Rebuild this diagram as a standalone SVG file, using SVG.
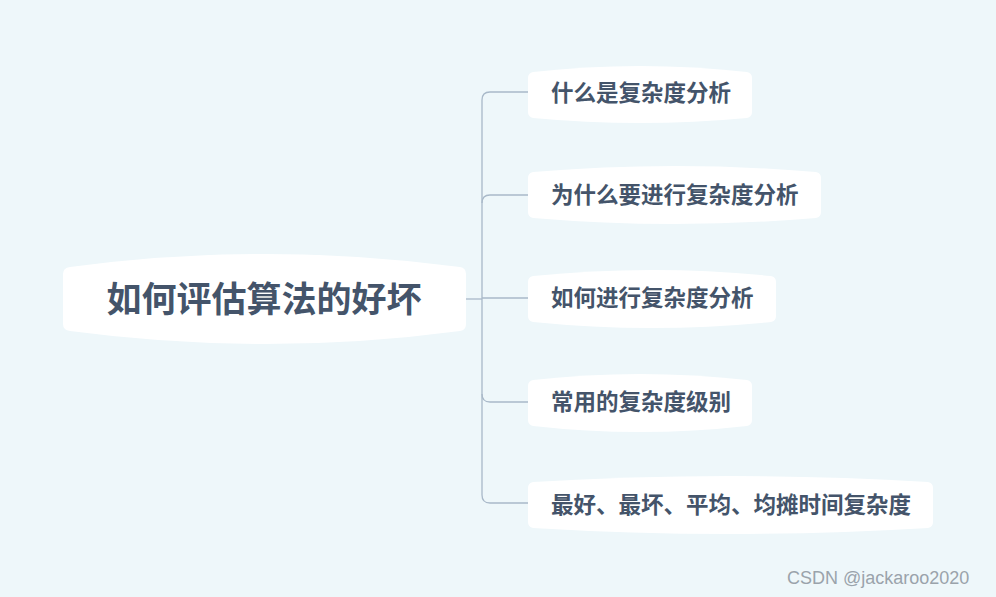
<svg xmlns="http://www.w3.org/2000/svg" width="996" height="597" viewBox="0 0 996 597">
<style>
.n{fill:#fff}
.t{font-family:"Noto Sans CJK SC","Noto Sans",sans-serif;font-weight:bold;fill:#44546a}
.c{fill:none;stroke:#a9b9c9;stroke-width:1.3}
</style>
<rect width="996" height="597" fill="#eef7fa"/>
<g id="connectors" class="c">
<path d="M466 299H482"/>
<path d="M528 92H490Q482 92 482 100V495Q482 503 490 503H528"/>
<path d="M528 195H490Q482 195 482 203"/>
<path d="M482 298H528"/>
<path d="M528 402H490Q482 402 482 394"/>
</g>
<g id="root"><path class="n" d="M70 267Q265 241 460 267Q466 268 466 274V324Q466 330 460 331Q265 357 70 331Q63 330 63 324V274Q63 268 70 267Z"/><text class="t" x="264" y="312" font-size="35" text-anchor="middle">如何评估算法的好坏</text></g>
<g id="n1"><path class="n" d="M533 72Q640 60 747 72Q752 73 752 78V112Q752 117 747 118Q640 128 533 118Q528 117 528 112V78Q528 73 533 72Z"/><text class="t" x="551" y="101" font-size="22.5">什么是复杂度分析</text></g>
<g id="n2"><path class="n" d="M533 172Q675 160 816 172Q821 173 821 178V212Q821 217 816 218Q675 230 533 218Q528 217 528 212V178Q528 173 533 172Z"/><text class="t" x="551" y="203" font-size="22.5">为什么要进行复杂度分析</text></g>
<g id="n3"><path class="n" d="M533 276Q652 264 771 276Q776 277 776 282V316Q776 321 771 322Q652 334 533 322Q528 321 528 316V282Q528 277 533 276Z"/><text class="t" x="551" y="306" font-size="22.5">如何进行复杂度分析</text></g>
<g id="n4"><path class="n" d="M533 380Q640 368 747 380Q752 381 752 386V420Q752 425 747 426Q640 438 533 426Q528 425 528 420V386Q528 381 533 380Z"/><text class="t" x="551" y="410" font-size="22.5">常用的复杂度级别</text></g>
<g id="n5"><path class="n" d="M533 482Q730 470 928 482Q933 483 933 488V522Q933 527 928 528Q730 540 533 528Q528 527 528 522V488Q528 483 533 482Z"/><text class="t" x="551" y="513" font-size="22.5">最好、最坏、平均、均摊时间复杂度</text></g>
<text x="787" y="584" font-family="Liberation Sans,sans-serif" font-size="18" fill="#9aa3ab">CSDN @jackaroo2020</text>
</svg>
